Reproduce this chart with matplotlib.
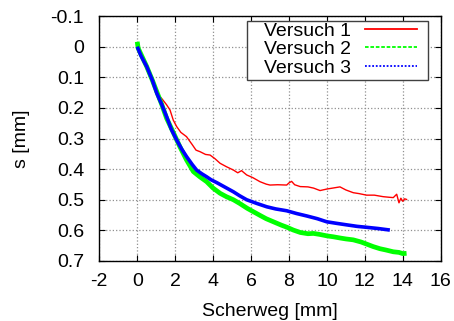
import matplotlib.pyplot as plt
from matplotlib.patches import Rectangle

plt.rcParams['font.family'] = ['Liberation Sans', 'DejaVu Sans']
plt.rcParams['axes.unicode_minus'] = False

# Versuch 1
x1 = [0.0, 0.3, 0.6, 0.85, 1.03, 1.3, 1.55, 1.73, 1.9, 2.08, 2.3, 2.6, 2.9, 3.1, 3.31, 3.6,
      3.84, 4.1, 4.37, 4.7, 5.07, 5.3, 5.5, 5.77, 6.1, 6.47, 6.8, 7.0, 7.4, 7.88, 8.0, 8.14,
      8.3, 8.59, 9.0, 9.3, 9.64, 10.0, 10.3, 10.69, 11.0, 11.39, 11.7, 12.09, 12.5, 12.97,
      13.3, 13.5, 13.68, 13.8, 13.9, 14.0, 14.1, 14.2]
y1 = [0.0, 0.04, 0.09, 0.125, 0.152, 0.17, 0.19, 0.207, 0.24, 0.261, 0.28, 0.294, 0.32, 0.338,
      0.343, 0.352, 0.354, 0.366, 0.381, 0.392, 0.403, 0.412, 0.405, 0.419, 0.428, 0.441,
      0.449, 0.452, 0.451, 0.452, 0.445, 0.44, 0.451, 0.457, 0.458, 0.462, 0.47, 0.465,
      0.462, 0.458, 0.468, 0.477, 0.48, 0.485, 0.485, 0.49, 0.492, 0.493, 0.482, 0.51,
      0.495, 0.505, 0.497, 0.499]

# Versuch 2
x2 = [0.0, 0.05, 0.2, 0.5, 0.8, 1.03, 1.3, 1.55, 1.9, 2.25, 2.6, 2.96, 3.3, 3.66, 4.0, 4.37,
      4.7, 5.07, 5.4, 5.8, 6.12, 6.5, 6.8, 7.18, 7.6, 7.9, 8.23, 8.6, 9.0, 9.29, 9.6, 10.0,
      10.34, 10.7, 11.0, 11.39, 11.8, 12.1, 12.44, 12.8, 13.1, 13.5, 13.8, 14.0, 14.2]
y2 = [-0.016, 0.005, 0.025, 0.065, 0.11, 0.147, 0.19, 0.234, 0.28, 0.327, 0.37, 0.408, 0.425,
      0.441, 0.462, 0.479, 0.49, 0.5, 0.512, 0.528, 0.539, 0.552, 0.562, 0.572, 0.583,
      0.59, 0.599, 0.607, 0.611, 0.61, 0.613, 0.618, 0.621, 0.625, 0.628, 0.631, 0.638,
      0.645, 0.653, 0.66, 0.664, 0.67, 0.672, 0.676, 0.675]

# Versuch 3
x3 = [0.0, 0.2, 0.5, 0.8, 1.03, 1.3, 1.55, 1.8, 2.08, 2.35, 2.6, 2.9, 3.13, 3.4, 3.66, 3.9,
      4.19, 4.6, 5.07, 5.4, 5.77, 6.3, 6.83, 7.3, 7.88, 8.4, 8.94, 9.5, 9.99, 10.5, 11.04,
      11.6, 12.09, 12.7, 13.32]
y3 = [0.0, 0.03, 0.065, 0.11, 0.152, 0.19, 0.229, 0.27, 0.305, 0.335, 0.359, 0.385, 0.403,
      0.415, 0.425, 0.435, 0.444, 0.458, 0.474, 0.487, 0.5, 0.512, 0.523, 0.53, 0.536,
      0.545, 0.553, 0.562, 0.572, 0.577, 0.582, 0.587, 0.59, 0.594, 0.599]

xticks = [-2, 0, 2, 4, 6, 8, 10, 12, 14, 16]
yticks = [-0.1, 0, 0.1, 0.2, 0.3, 0.4, 0.5, 0.6, 0.7]
yticklabels = ['-0.1', '0', '0.1', '0.2', '0.3', '0.4', '0.5', '0.6', '0.7']

fig = plt.figure(figsize=(4.54, 3.21), dpi=100)
ax = fig.add_axes([0.2187, 0.187, 0.752, 0.763])

ax.plot(x1, y1, color='#ff0000', lw=1.0, ls='-', label='Versuch 1')
ax.plot(x2, y2, color='#00ff00', lw=3.4, ls='-', solid_capstyle='butt', label='Versuch 2')
ax.plot(x3, y3, color='#0000ff', lw=2.6, ls='-', solid_capstyle='butt', label='Versuch 3')

ax.set_xlim(-2, 16)
ax.set_ylim(0.7, -0.1)
ax.set_xticks(xticks)
ax.set_yticks(yticks)
ax.set_yticklabels(yticklabels)
ax.tick_params(direction='in', top=True, right=True, labelsize=14, length=4)
ax.tick_params(axis='y', pad=11)
ax.tick_params(axis='x', pad=9)
ax.grid(True, color='#909090', ls=':', lw=0.9)
for s in ax.spines.values():
    s.set_linewidth(1.0)

ax.set_xlabel('Scherweg [mm]', fontsize=14, labelpad=9)
ax.set_ylabel('s [mm]', fontsize=14, labelpad=15)

leg = ax.legend(loc='upper right', bbox_to_anchor=(0.931, 0.976), borderaxespad=0,
                markerfirst=False, fontsize=14, handlelength=2.7, labelspacing=0.05,
                borderpad=0, handletextpad=0.7, frameon=False)
styles = ['-', (0, (2, 1)), (0, (1, 1))]
for h, st in zip(leg.get_lines(), styles):
    h.set_linewidth(1.3)
    h.set_linestyle(st)
ax.add_patch(Rectangle((0.4326, 0.7388), 0.5302, 0.2408, transform=ax.transAxes,
                       facecolor='white', edgecolor='#404040', lw=1.0, zorder=4.9))

fig.savefig('out.png', dpi=100)
